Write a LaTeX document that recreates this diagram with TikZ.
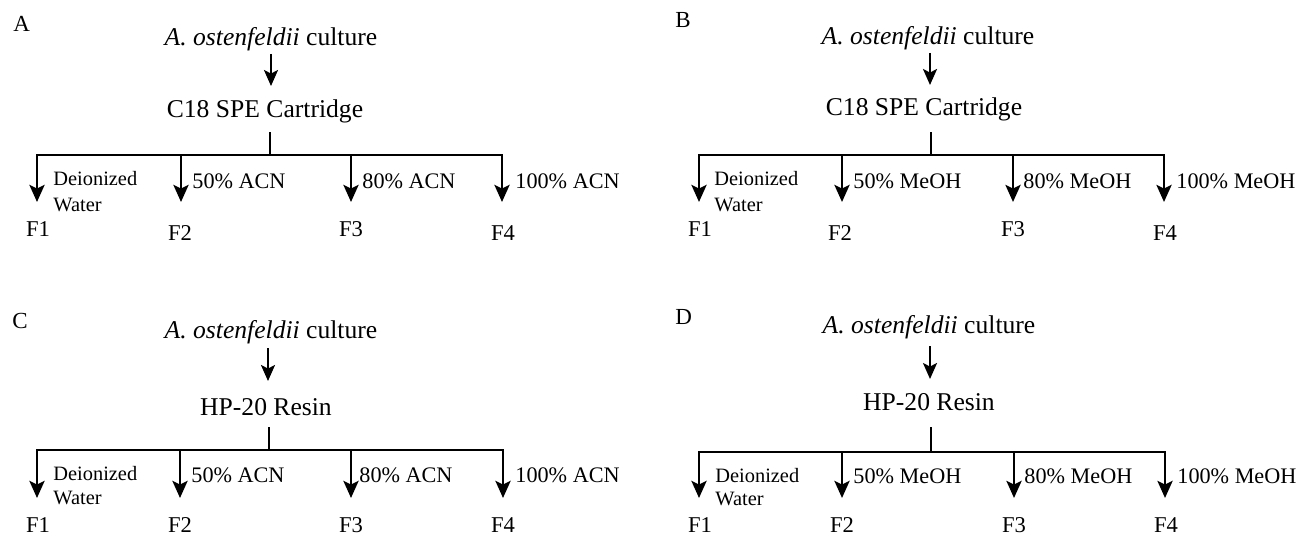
\documentclass[tikz,border=0pt]{standalone}
\usepackage{fontspec}
\setmainfont{Liberation Serif}
\usetikzlibrary{arrows.meta}
\begin{document}
\begin{tikzpicture}[x=0.5pt,y=-0.5pt,
  main/.style={inner sep=0pt, anchor=base, font=\fontsize{12.8}{15}\selectfont},
  sol/.style={inner sep=0pt, anchor=base west, font=\fontsize{11.1}{13}\selectfont},
  water/.style={inner sep=0pt, anchor=base west, font=\fontsize{10.2}{12}\selectfont},
  frac/.style={inner sep=0pt, anchor=base, font=\fontsize{11.3}{13}\selectfont},
  plab/.style={inner sep=0pt, anchor=base west, font=\fontsize{11.5}{13}\selectfont},
  ln/.style={line width=1.45pt, line join=miter},
  arrowdown/.style={ln, -{Stealth[length=8.5pt,width=7.5pt,inset=1.8pt]}},
  arrowtwo/.style={ln, {Stealth[length=8.5pt,width=7.5pt,inset=1.8pt]}-{Stealth[length=8.5pt,width=7.5pt,inset=1.8pt]}},
  feed/.style={line width=1.2pt, -{Stealth[length=8pt,width=7pt,inset=1.8pt]}}
]
\useasboundingbox (0,0) rectangle (1299,535);

% ---------------- Panel A ----------------
\node[plab] (A-lab) at (13,32) {A};
\node[main] (A-cult) at (271,46) {\textit{A. ostenfeldii} culture};
\node[main] (A-col) at (265,118) {C18 SPE Cartridge};
\coordinate (A-s) at (271,54); \coordinate (A-e) at (271,86);
\draw[feed] (A-s) -- (A-e);
\coordinate (A-top) at (270,132); \coordinate (A-hub) at (270,155);
\coordinate (A-t1) at (37,155); \coordinate (A-t2) at (181,155);
\coordinate (A-t3) at (351,155); \coordinate (A-t4) at (502,155);
\coordinate (A-e1) at (37,202); \coordinate (A-e2) at (181,202);
\coordinate (A-e3) at (351,202); \coordinate (A-e4) at (502,202);
\draw[ln] (A-top) -- (A-hub);
\draw[arrowtwo] (A-e1) -- (A-t1) -- (A-t4) -- (A-e4);
\draw[arrowdown] (A-t2) -- (A-e2);
\draw[arrowdown] (A-t3) -- (A-e3);
\node[water] (A-w1) at (53,185) {Deionized};
\node[water] (A-w2) at (53,211) {Water};
\node[sol] (A-l2) at (192,188) {50\% ACN};
\node[sol] (A-l3) at (362,188) {80\% ACN};
\node[sol] (A-l4) at (515,188) {100\% ACN};
\node[frac] (A-F1) at (38,236) {F1};
\node[frac] (A-F2) at (180,240) {F2};
\node[frac] (A-F3) at (351,236) {F3};
\node[frac] (A-F4) at (503,240) {F4};

% ---------------- Panel B ----------------
\node[plab] (B-lab) at (675,28) {B};
\node[main] (B-cult) at (928,45) {\textit{A. ostenfeldii} culture};
\node[main] (B-col) at (924,115) {C18 SPE Cartridge};
\coordinate (B-s) at (930,53); \coordinate (B-e) at (930,85);
\draw[feed] (B-s) -- (B-e);
\coordinate (B-top) at (931,132); \coordinate (B-hub) at (931,155);
\coordinate (B-t1) at (699,155); \coordinate (B-t2) at (842,155);
\coordinate (B-t3) at (1013,155); \coordinate (B-t4) at (1164,155);
\coordinate (B-e1) at (699,202); \coordinate (B-e2) at (842,202);
\coordinate (B-e3) at (1013,202); \coordinate (B-e4) at (1164,202);
\draw[ln] (B-top) -- (B-hub);
\draw[arrowtwo] (B-e1) -- (B-t1) -- (B-t4) -- (B-e4);
\draw[arrowdown] (B-t2) -- (B-e2);
\draw[arrowdown] (B-t3) -- (B-e3);
\node[water] (B-w1) at (714,185) {Deionized};
\node[water] (B-w2) at (714,211) {Water};
\node[sol] (B-l2) at (853,188) {50\% MeOH};
\node[sol] (B-l3) at (1023,188) {80\% MeOH};
\node[sol] (B-l4) at (1176,188) {100\% MeOH};
\node[frac] (B-F1) at (700,236) {F1};
\node[frac] (B-F2) at (840,240) {F2};
\node[frac] (B-F3) at (1013,236) {F3};
\node[frac] (B-F4) at (1165,240) {F4};

% ---------------- Panel C ----------------
\node[plab] (C-lab) at (12,328) {C};
\node[main] (C-cult) at (271,338) {\textit{A. ostenfeldii} culture};
\node[main] (C-col) at (266,415) {HP-20 Resin};
\coordinate (C-s) at (268,348); \coordinate (C-e) at (268,381);
\draw[feed] (C-s) -- (C-e);
\coordinate (C-top) at (269,427); \coordinate (C-hub) at (269,450);
\coordinate (C-t1) at (37,450); \coordinate (C-t2) at (180,450);
\coordinate (C-t3) at (351,450); \coordinate (C-t4) at (503,450);
\coordinate (C-e1) at (37,498); \coordinate (C-e2) at (180,498);
\coordinate (C-e3) at (351,498); \coordinate (C-e4) at (503,498);
\draw[ln] (C-top) -- (C-hub);
\draw[arrowtwo] (C-e1) -- (C-t1) -- (C-t4) -- (C-e4);
\draw[arrowdown] (C-t2) -- (C-e2);
\draw[arrowdown] (C-t3) -- (C-e3);
\node[water] (C-w1) at (53,480) {Deionized};
\node[water] (C-w2) at (53,504) {Water};
\node[sol] (C-l2) at (191,482) {50\% ACN};
\node[sol] (C-l3) at (359,482) {80\% ACN};
\node[sol] (C-l4) at (515,482) {100\% ACN};
\node[frac] (C-F1) at (38,532) {F1};
\node[frac] (C-F2) at (180,532) {F2};
\node[frac] (C-F3) at (351,532) {F3};
\node[frac] (C-F4) at (503,532) {F4};

% ---------------- Panel D ----------------
\node[plab] (D-lab) at (675,324) {D};
\node[main] (D-cult) at (929,333) {\textit{A. ostenfeldii} culture};
\node[main] (D-col) at (929,410) {HP-20 Resin};
\coordinate (D-s) at (930,346); \coordinate (D-e) at (930,379);
\draw[feed] (D-s) -- (D-e);
\coordinate (D-top) at (931,427); \coordinate (D-hub) at (931,452);
\coordinate (D-t1) at (699,452); \coordinate (D-t2) at (842,452);
\coordinate (D-t3) at (1014,452); \coordinate (D-t4) at (1165,452);
\coordinate (D-e1) at (699,498); \coordinate (D-e2) at (842,498);
\coordinate (D-e3) at (1014,498); \coordinate (D-e4) at (1165,498);
\draw[ln] (D-top) -- (D-hub);
\draw[arrowtwo] (D-e1) -- (D-t1) -- (D-t4) -- (D-e4);
\draw[arrowdown] (D-t2) -- (D-e2);
\draw[arrowdown] (D-t3) -- (D-e3);
\node[water] (D-w1) at (715,482) {Deionized};
\node[water] (D-w2) at (715,505) {Water};
\node[sol] (D-l2) at (853,483) {50\% MeOH};
\node[sol] (D-l3) at (1024,483) {80\% MeOH};
\node[sol] (D-l4) at (1177,483) {100\% MeOH};
\node[frac] (D-F1) at (700,532) {F1};
\node[frac] (D-F2) at (842,532) {F2};
\node[frac] (D-F3) at (1014,532) {F3};
\node[frac] (D-F4) at (1166,532) {F4};
\end{tikzpicture}
\end{document}
